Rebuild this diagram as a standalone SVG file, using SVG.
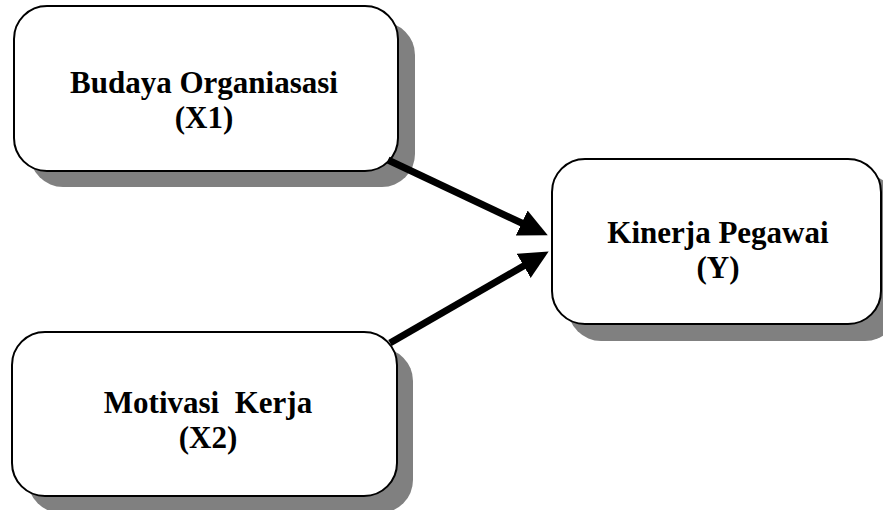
<svg xmlns="http://www.w3.org/2000/svg" width="883" height="510" viewBox="0 0 883 510">
<defs>
<style>
.shadow{fill:#808080;stroke:none}
.box{fill:#ffffff;stroke:#000000;stroke-width:2}
.lbl{font-family:"Liberation Serif","Times New Roman",serif;font-weight:bold;font-size:31px;fill:#000000;text-anchor:middle}
.conn{stroke:#000000;stroke-width:7;fill:none}
</style>
<marker id="ah" markerUnits="userSpaceOnUse" markerWidth="30" markerHeight="30" viewBox="0 -13 26 26" refX="5" refY="0" orient="auto">
<path d="M0,-12 L25,0 L0,12 z" fill="#000000"/>
</marker>
</defs>
<rect width="883" height="510" fill="#ffffff"/>
<g id="node-x1">
<rect class="shadow" x="30" y="22" width="385" height="165" rx="33" ry="33"/>
<rect class="box" x="14" y="6" width="384" height="165" rx="33" ry="33"/>
<text class="lbl" x="204" y="93">Budaya Organiasasi</text>
<text class="lbl" x="204" y="128">(X1)</text>
</g>
<g id="node-x2">
<rect class="shadow" x="28" y="348" width="385" height="165" rx="33" ry="33"/>
<rect class="box" x="12" y="332" width="385" height="164" rx="33" ry="33"/>
<text class="lbl" x="208" y="413" xml:space="preserve">Motivasi  Kerja</text>
<text class="lbl" x="208" y="448">(X2)</text>
</g>
<g id="node-y">
<rect class="shadow" x="568" y="175" width="330" height="166" rx="33" ry="33"/>
<rect class="box" x="552" y="159" width="329" height="165" rx="33" ry="33"/>
<text class="lbl" x="718" y="243">Kinerja Pegawai</text>
<text class="lbl" x="718" y="278">(Y)</text>
</g>
<g id="connectors">
<line class="conn" x1="388" y1="160" x2="526.9" y2="225.5" marker-end="url(#ah)"/>
<line class="conn" x1="390" y1="343" x2="528.7" y2="263" marker-end="url(#ah)"/>
</g>
</svg>
